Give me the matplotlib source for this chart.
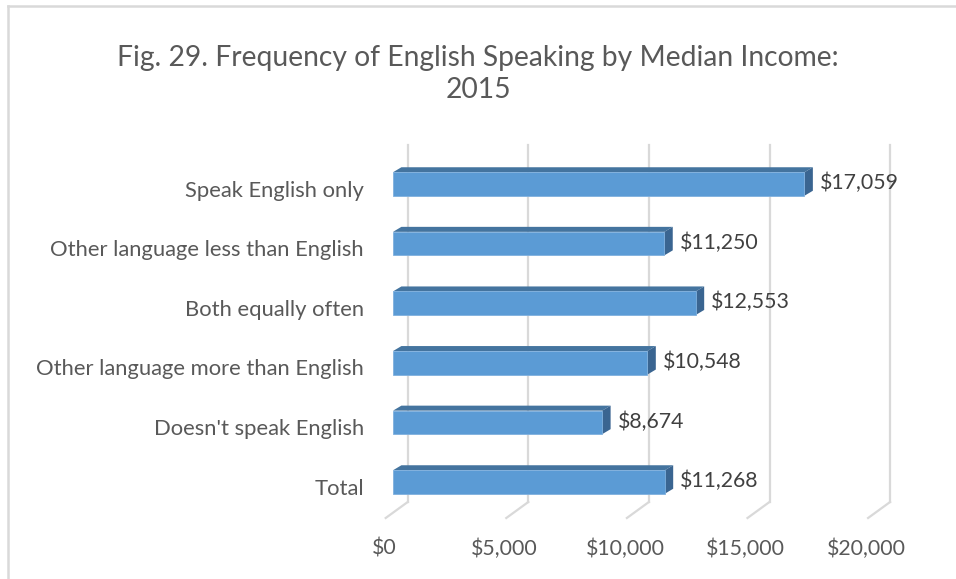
import matplotlib

matplotlib.use("Agg")
import matplotlib.pyplot as plt
from matplotlib.lines import Line2D
from matplotlib.patches import Polygon, Rectangle
from matplotlib.transforms import ScaledTranslation

categories = ["Speak English only", "Other language less than English",
              "Both equally often", "Other language more than English",
              "Doesn't speak English", "Total"]
income = [17059, 11250, 12553, 10548, 8674, 11268]
ticks = [0, 5000, 10000, 15000, 20000]
tick_labels = ["$0", "$5,000", "$10,000", "$15,000", "$20,000"]

W, H = 956, 579
FRONT, TOP, SIDE = "#5B9BD5", "#44749F", "#3A6591"
GRID = "#D9D9D9"
plt.rcParams["font.family"] = ["Lato", "DejaVu Sans"]

fig = plt.figure(figsize=(W / 100, H / 100), dpi=100)
# axes placed so that $0..$20,000 spans the bar front plane
x0, x1 = 393, 875.4
row0, row_step = 184, 59.6
y_top, y_bot = row0 - row_step / 2, row0 + row_step * 5.5
ax = fig.add_axes([x0 / W, 1 - y_bot / H, (x1 - x0) / W, (y_bot - y_top) / H])
ax.set_xlim(0, 20000)
ax.set_ylim(5.5, -0.5)
for s in ax.spines.values():
    s.set_visible(False)

px_x = 20000 / (x1 - x0)       # dollars per pixel
px_y = 1 / row_step            # rows per pixel

# back wall gridlines + floor diagonals
for t in ticks:
    xb = t + 14.7 * px_x
    ax.add_line(Line2D([xb, xb], [(145 - row0) * px_y, (502 - row0) * px_y],
                       color=GRID, lw=1.6, clip_on=False, zorder=0))
    ax.add_line(Line2D([xb, xb - 22 * px_x], [(502 - row0) * px_y, (518 - row0) * px_y],
                       color=GRID, lw=1.6, clip_on=False, zorder=0))

# 3-D bars
h = 23.5 * px_y
ddx, ddy = 8.4 * px_x, 5 * px_y
for i, v in enumerate(income):
    yt, yb = i - h / 2, i + h / 2
    ax.add_patch(Polygon([(0, yt), (v, yt), (v + ddx, yt - ddy), (ddx, yt - ddy)],
                         fc=TOP, ec="none", zorder=2, clip_on=False))
    ax.add_patch(Polygon([(v, yt), (v + ddx, yt - ddy), (v + ddx, yb - ddy), (v, yb)],
                         fc=SIDE, ec="none", zorder=2, clip_on=False))
    ax.add_patch(Rectangle((0, yt), v, h, fc=FRONT, ec="#7FB0DE", lw=0.6, zorder=3))
    ax.text(v + 15.5 * px_x, i - 1 * px_y, f"${v:,}", ha="left", va="center",
            fontsize=15.3, color="#404040")

ax.set_yticks(range(len(categories)))
ax.set_yticklabels(categories, fontsize=15.8, color="#595959")
ax.tick_params(axis="y", length=0, pad=21)
for lab in ax.get_yticklabels():
    lab.set_transform(lab.get_transform() + ScaledTranslation(0, -0.045, fig.dpi_scale_trans))

ax.set_xticks(ticks)
ax.set_xticklabels(tick_labels, fontsize=15.3, color="#595959")
ax.tick_params(axis="x", length=0, pad=19)
for lab in ax.get_xticklabels():
    lab.set_transform(lab.get_transform() + ScaledTranslation(-0.09, 0, fig.dpi_scale_trans))

fig.text(0.5, 1 - 74 / H, "Fig. 29. Frequency of English Speaking by Median Income:\n2015",
         ha="center", va="center", fontsize=20.3, color="#595959", linespacing=1.25)

# chart border (left and top edges visible)
fig.add_artist(Line2D([8 / W, 8 / W], [0, 1 - 6 / H], color=GRID, lw=1.8))
fig.add_artist(Line2D([8 / W, 1], [1 - 6 / H, 1 - 6 / H], color=GRID, lw=1.8))

fig.savefig("out.png", dpi=100)
